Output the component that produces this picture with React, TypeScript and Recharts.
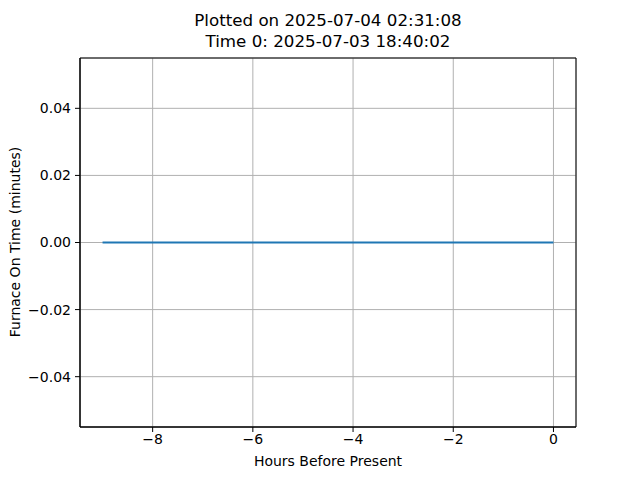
import {
  LineChart,
  Line,
  XAxis,
  YAxis,
  CartesianGrid,
  ReferenceArea,
} from 'recharts';

// hours before present, furnace on time per sample
const hours = [-9, -8, -7, -6, -5, -4, -3, -2, -1, 0];
const furnaceMinutes = [0, 0, 0, 0, 0, 0, 0, 0, 0, 0];
const xTicks = [-8, -6, -4, -2, 0];
const yTicks = [-0.04, -0.02, 0, 0.02, 0.04];

const titleLines = ['Plotted on 2025-07-04 02:31:08', 'Time 0: 2025-07-03 18:40:02'];
const xLabel = 'Hours Before Present';
const yLabel = 'Furnace On Time (minutes)';

const data = hours.map((h, i) => ({ hours: h, minutes: furnaceMinutes[i] }));

const xDomain: [number, number] = [-9.45, 0.45];
const yDomain: [number, number] = [-0.055, 0.055];

const font = '"DejaVu Sans", sans-serif';
const minus = (s: string) => s.replace('-', '\u2212');

export default function App() {
  return (
    <div style={{ position: 'absolute', left: 0, top: 0, width: 640, height: 480, background: '#fff', fontFamily: font }}>
      <LineChart
        width={640}
        height={480}
        data={data}
        margin={{ top: 58, right: 64, bottom: 0, left: 0 }}
      >
        <CartesianGrid stroke="#b0b0b0" strokeWidth={1} />
        <XAxis
          dataKey="hours"
          type="number"
          domain={xDomain}
          ticks={xTicks}
          allowDataOverflow
          height={53}
          tickSize={5}
          tickMargin={2}
          stroke="#000"
          tick={{ fill: '#000', fontSize: 14, fontFamily: font }}
          tickFormatter={(v: number) => minus(String(v))}
        />
        <YAxis
          type="number"
          domain={yDomain}
          ticks={yTicks}
          allowDataOverflow
          width={80}
          tickSize={5}
          tickMargin={4}
          stroke="#000"
          tick={{ fill: '#000', fontSize: 14, fontFamily: font }}
          tickFormatter={(v: number) => minus(v.toFixed(2))}
        />
        <Line
          dataKey="minutes"
          type="linear"
          stroke="#1f77b4"
          strokeWidth={2}
          dot={false}
          isAnimationActive={false}
        />
        <ReferenceArea
          x1={xDomain[0]}
          x2={xDomain[1]}
          y1={yDomain[0]}
          y2={yDomain[1]}
          stroke="#000"
          strokeWidth={1}
          fill="none"
          fillOpacity={0}
          ifOverflow="visible"
        />
      </LineChart>
      <div style={{ position: 'absolute', left: 80, width: 496, top: 10, textAlign: 'center', fontSize: 16.7, lineHeight: '21px', color: '#000' }}>
        {titleLines.map((t) => (
          <div key={t}>{t}</div>
        ))}
      </div>
      <div style={{ position: 'absolute', left: 80, width: 496, top: 453, textAlign: 'center', fontSize: 14, color: '#000' }}>
        {xLabel}
      </div>
      <div
        style={{
          position: 'absolute',
          left: 15,
          top: 242,
          transform: 'translate(-50%, -50%) rotate(-90deg)',
          whiteSpace: 'nowrap',
          fontSize: 14,
          color: '#000',
        }}
      >
        {yLabel}
      </div>
    </div>
  );
}
